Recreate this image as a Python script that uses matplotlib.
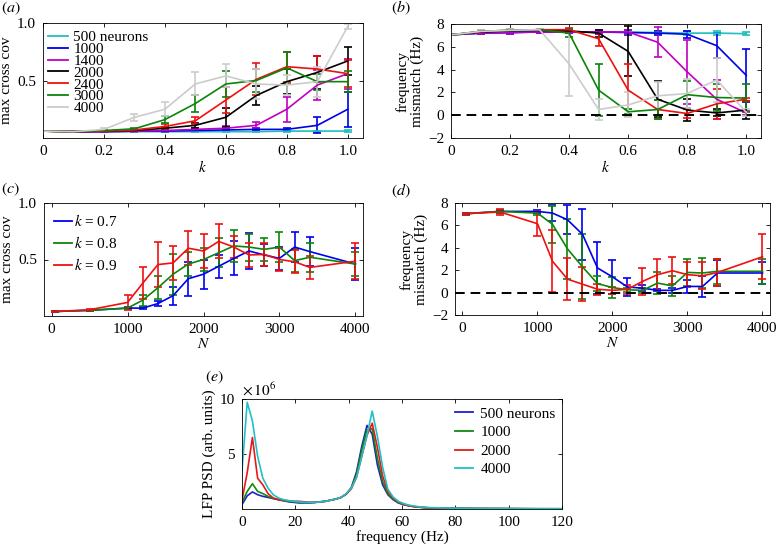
import numpy as np
import matplotlib
matplotlib.use('Agg')
import matplotlib.pyplot as plt
from matplotlib.lines import Line2D

plt.rcParams['font.family'] = 'serif'
plt.rcParams['font.serif'] = ['Liberation Serif', 'DejaVu Serif']
plt.rcParams['mathtext.fontset'] = 'stix'
plt.rcParams['font.size'] = 11
plt.rcParams['axes.linewidth'] = 0.6

#%% data

# panel (a)/(b): sweep over k for several network sizes
k_vals = [0, 0.1, 0.2, 0.3, 0.4, 0.5, 0.6, 0.7, 0.8, 0.9, 1.0]
size_labels = ['500 neurons', '1000', '1400', '2000', '2400', '3000', '4000']

cov_500 = [0.06, 0.055, 0.055, 0.055, 0.055, 0.055, 0.055, 0.055, 0.06, 0.06, 0.06]
cov_1000 = [0.06, 0.055, 0.055, 0.06, 0.06, 0.065, 0.07, 0.075, 0.075, 0.11, 0.25]
cov_1400 = [0.06, 0.055, 0.055, 0.06, 0.065, 0.075, 0.085, 0.11, 0.25, 0.46, 0.56]
cov_2000 = [0.06, 0.055, 0.06, 0.065, 0.085, 0.11, 0.18, 0.37, 0.49, 0.57, 0.67]
cov_2400 = [0.06, 0.055, 0.06, 0.07, 0.1, 0.15, 0.33, 0.51, 0.62, 0.6, 0.56]
cov_3000 = [0.06, 0.055, 0.065, 0.08, 0.16, 0.3, 0.47, 0.5, 0.61, 0.49, 0.49]
cov_4000 = [0.06, 0.055, 0.075, 0.18, 0.25, 0.47, 0.54, 0.47, 0.46, 0.49, 0.97]

err_500 = [0.003, 0.003, 0.003, 0.003, 0.005, 0.005, 0.005, 0.005, 0.005, 0.005, 0.008]
err_1000 = [0.003, 0.003, 0.003, 0.005, 0.005, 0.008, 0.01, 0.01, 0.01, 0.07, 0.15]
err_1400 = [0.003, 0.003, 0.003, 0.005, 0.008, 0.01, 0.02, 0.025, 0.11, 0.13, 0.13]
err_2000 = [0.003, 0.003, 0.005, 0.005, 0.01, 0.02, 0.08, 0.08, 0.11, 0.14, 0.12]
err_2400 = [0.003, 0.003, 0.005, 0.01, 0.02, 0.03, 0.11, 0.14, 0.13, 0.11, 0.12]
err_3000 = [0.003, 0.003, 0.005, 0.01, 0.03, 0.07, 0.11, 0.1, 0.14, 0.07, 0.09]
err_4000 = [0.003, 0.003, 0.01, 0.03, 0.06, 0.1, 0.1, 0.13, 0.09, 0.13, 0.02]

mis_500 = [7.05, 7.2, 7.25, 7.3, 7.3, 7.3, 7.3, 7.25, 7.2, 7.2, 7.15]
mis_1000 = [7.05, 7.2, 7.25, 7.3, 7.3, 7.3, 7.25, 7.2, 7.1, 6.1, 3.5]
mis_1400 = [7.05, 7.2, 7.25, 7.3, 7.3, 7.3, 7.3, 6.4, 3.8, 1.4, 0.2]
mis_2000 = [7.05, 7.3, 7.4, 7.45, 7.4, 7.2, 5.6, 1.4, 0.45, 0.2, 0.45]
mis_2400 = [7.05, 7.35, 7.45, 7.5, 7.5, 6.7, 2.2, 0.5, 0.15, 1.0, 1.4]
mis_3000 = [7.05, 7.35, 7.45, 7.5, 7.2, 2.2, 0.3, 0.5, 1.8, 1.55, 1.5]
mis_4000 = [7.05, 7.35, 7.45, 7.5, 4.5, 0.5, 0.9, 1.7, 1.9, 3.1, 0.25]

merr_500 = [0.05, 0.1, 0.1, 0.1, 0.1, 0.15, 0.15, 0.15, 0.15, 0.15, 0.15]
merr_1000 = [0.05, 0.1, 0.1, 0.1, 0.1, 0.15, 0.2, 0.2, 0.3, 1.1, 2.3]
merr_1400 = [0.05, 0.1, 0.1, 0.1, 0.1, 0.15, 0.2, 1.3, 2.8, 1.7, 0.2]
merr_2000 = [0.05, 0.1, 0.1, 0.1, 0.1, 0.3, 2.2, 1.6, 1.0, 0.3, 0.8]
merr_2400 = [0.05, 0.1, 0.1, 0.1, 0.15, 0.6, 2.3, 0.8, 0.4, 1.3, 0.15]
merr_3000 = [0.05, 0.1, 0.1, 0.1, 0.35, 2.3, 0.2, 0.8, 1.2, 1.2, 1.2]
merr_4000 = [0.05, 0.1, 0.1, 0.1, 2.8, 0.9, 1.1, 1.2, 1.3, 1.9, 0.3]

# panel (c)/(d): sweep over N for three k values
N_vals = [50, 500, 1000, 1200, 1400, 1600, 1800, 2000, 2200, 2400, 2600, 2800, 3000, 3200, 3400, 4000]
k_labels = [r'$k$ = 0.7', r'$k$ = 0.8', r'$k$ = 0.9']

cov_k07 = [0.04, 0.05, 0.07, 0.07, 0.11, 0.18, 0.33, 0.37, 0.44, 0.51, 0.575, 0.54, 0.51, 0.61, 0.57, 0.46]
err_k07 = [0.005, 0.005, 0.01, 0.01, 0.02, 0.08, 0.15, 0.13, 0.1, 0.15, 0.16, 0.1, 0.1, 0.13, 0.13, 0.14]
cov_k08 = [0.04, 0.05, 0.07, 0.14, 0.25, 0.37, 0.46, 0.5, 0.56, 0.62, 0.61, 0.59, 0.61, 0.49, 0.52, 0.46]
err_k08 = [0.005, 0.005, 0.01, 0.05, 0.1, 0.18, 0.11, 0.1, 0.13, 0.14, 0.12, 0.1, 0.13, 0.1, 0.13, 0.11]
cov_k09 = [0.04, 0.055, 0.12, 0.29, 0.455, 0.47, 0.6, 0.575, 0.66, 0.61, 0.54, 0.545, 0.5, 0.48, 0.43, 0.485]
err_k09 = [0.005, 0.01, 0.07, 0.14, 0.2, 0.15, 0.15, 0.15, 0.15, 0.1, 0.11, 0.1, 0.1, 0.1, 0.1, 0.16]

mis_k07 = [7.05, 7.25, 7.25, 7.1, 6.5, 5.2, 2.2, 1.4, 0.5, 0.4, 0.2, 0.2, 0.55, 0.55, 1.75, 1.75]
merr_k07 = [0.1, 0.1, 0.1, 0.7, 1.3, 2.3, 2.3, 1.5, 0.8, 0.3, 0.1, 0.2, 0.6, 0.9, 1.2, 1.0]
mis_k08 = [7.05, 7.25, 7.1, 6.1, 3.9, 2.3, 0.8, 0.45, 0.25, 0.2, 0.85, 0.6, 1.8, 1.75, 1.9, 1.9]
merr_k08 = [0.1, 0.1, 0.2, 1.65, 2.7, 2.9, 0.7, 0.9, 0.2, 0.2, 1.0, 0.9, 1.2, 1.3, 1.1, 1.1]
mis_k09 = [7.05, 7.2, 6.15, 2.8, 1.2, 0.75, 0.3, 0.2, 0.3, 1.0, 1.6, 1.95, 1.6, 1.5, 1.8, 3.2]
merr_k09 = [0.1, 0.3, 1.1, 2.75, 1.9, 1.5, 0.5, 0.3, 0.4, 1.2, 1.4, 1.2, 1.1, 1.2, 1.2, 2.0]

# panel (e): LFP power spectra (x 1e6)
freq_e = list(np.arange(37) * 1.953125) + [80, 90, 100, 110, 120]
psd_labels = ['500 neurons', '1000', '2000', '4000']
psd_500 = [0.4, 1.2, 1.55, 1.3, 1.15, 1.05, 0.95, 0.85, 0.75, 0.65, 0.6, 0.55, 0.55, 0.55,
           0.6, 0.65, 0.7, 0.8, 0.9, 1.05, 1.35, 1.95, 3.4, 5.7, 7.6, 6.8, 4.0, 2.2, 1.3,
           0.85, 0.55, 0.4, 0.3, 0.22, 0.17, 0.13, 0.1, 0.06, 0.04, 0.03, 0.02, 0.02]
psd_1000 = [0.6, 1.6, 2.3, 1.6, 1.4, 1.15, 0.95, 0.85, 0.75, 0.7, 0.65, 0.6, 0.6, 0.6,
            0.6, 0.65, 0.7, 0.8, 0.9, 1.05, 1.35, 1.9, 3.2, 5.4, 7.2, 7.3, 4.6, 2.5, 1.4,
            0.9, 0.6, 0.42, 0.3, 0.22, 0.17, 0.13, 0.1, 0.06, 0.04, 0.03, 0.02, 0.02]
psd_2000 = [0.8, 3.3, 6.5, 2.8, 2.2, 1.4, 1.0, 0.85, 0.8, 0.75, 0.7, 0.7, 0.65, 0.6,
            0.6, 0.65, 0.7, 0.8, 0.9, 1.05, 1.35, 1.85, 2.9, 4.8, 6.7, 7.8, 5.6, 3.0, 1.6,
            1.0, 0.65, 0.45, 0.3, 0.22, 0.17, 0.13, 0.1, 0.06, 0.04, 0.03, 0.02, 0.02]
psd_4000 = [3.5, 9.7, 8.0, 4.8, 2.8, 1.9, 1.3, 1.0, 0.85, 0.75, 0.7, 0.65, 0.6, 0.6,
            0.6, 0.65, 0.7, 0.8, 0.9, 1.05, 1.4, 1.9, 2.9, 4.8, 6.7, 8.9, 6.6, 3.8, 1.8,
            1.1, 0.7, 0.5, 0.36, 0.27, 0.21, 0.16, 0.13, 0.07, 0.05, 0.04, 0.03, 0.02]

#%% styling

size_colors = ['#1cc0c0', '#0000e6', '#c000c0', '#000000', '#ee1010', '#0a840a', '#cccccc']
k_colors = ['#0000f0', '#0a860a', '#f01010']
psd_colors = ['#2020c8', '#108a10', '#e81818', '#20c0c8']

W, H = 778, 547
fig = plt.figure(figsize=(W / 100, H / 100), dpi=100)


def px_axes(left, top, right, bottom):
    return fig.add_axes([left / W, 1 - bottom / H, (right - left) / W, (bottom - top) / H])


def style(ax):
    ax.tick_params(direction='in', top=True, right=True, length=3, width=0.6,
                   labelsize=11, pad=5)


def errlines(ax, x, ys, errs, colors):
    for y, e, c in zip(ys, errs, colors):
        ax.errorbar(x, y, yerr=e, color=c, lw=1.2, elinewidth=1.2, capsize=3,
                    capthick=1.2)


def line_legend(ax, colors, labels, anchor, hl, tp, ls):
    handles = [Line2D([], [], color=c, lw=1.3) for c in colors]
    ax.legend(handles, labels, loc='upper left', bbox_to_anchor=anchor, frameon=False,
              borderpad=0, borderaxespad=0, handlelength=hl, handletextpad=tp,
              labelspacing=ls, fontsize=11)


#%% (a)
ax1 = px_axes(43, 23, 363, 138)
errlines(ax1, k_vals,
         [cov_500, cov_1000, cov_1400, cov_2000, cov_2400, cov_3000, cov_4000],
         [err_500, err_1000, err_1400, err_2000, err_2400, err_3000, err_4000],
         size_colors)
ax1.set_xlim(0, 1.05)
ax1.set_ylim(0, 1.0)
ax1.set_xticks([0, 0.2, 0.4, 0.6, 0.8, 1.0])
ax1.set_xticklabels(['0', '0.2', '0.4', '0.6', '0.8', '1.0'])
ax1.set_yticks([0.5, 1.0])
ax1.set_yticklabels(['0.5', '1.0'])
ax1.set_xlabel(r'$k$', labelpad=1)
ax1.set_ylabel('max cross cov', labelpad=3)
style(ax1)
line_legend(ax1, size_colors, size_labels, (0.016, 0.935), 1.33, 0.33, -0.12)

#%% (b)
ax2 = px_axes(451, 24, 761, 138)
errlines(ax2, k_vals,
         [mis_500, mis_1000, mis_1400, mis_2000, mis_2400, mis_3000, mis_4000],
         [merr_500, merr_1000, merr_1400, merr_2000, merr_2400, merr_3000, merr_4000],
         size_colors)
ax2.axhline(0, color='k', ls=(0, (5, 3)), lw=1.4)
ax2.set_xlim(0, 1.05)
ax2.set_ylim(-2, 8)
ax2.set_xticks([0, 0.2, 0.4, 0.6, 0.8, 1.0])
ax2.set_xticklabels(['0', '0.2', '0.4', '0.6', '0.8', '1.0'])
ax2.set_yticks([-2, 0, 2, 4, 6, 8])
ax2.set_xlabel(r'$k$', labelpad=1)
ax2.set_ylabel('frequency\nmismatch (Hz)', labelpad=3, linespacing=1.1)
style(ax2)

#%% (c)
ax3 = px_axes(44, 203, 363, 316)
errlines(ax3, N_vals, [cov_k07, cov_k08, cov_k09], [err_k07, err_k08, err_k09], k_colors)
ax3.set_xlim(-100, 4100)
ax3.set_ylim(0, 1.0)
ax3.set_xticks([0, 1000, 2000, 3000, 4000])
ax3.set_yticks([0.5, 1.0])
ax3.set_yticklabels(['0.5', '1.0'])
ax3.set_xlabel(r'$N$', labelpad=1)
ax3.set_ylabel('max cross cov', labelpad=3)
style(ax3)
line_legend(ax3, k_colors, k_labels, (0.031, 0.912), 1.2, 0.12, 0.39)

#%% (d)
ax4 = px_axes(455, 203, 770, 315)
errlines(ax4, N_vals, [mis_k07, mis_k08, mis_k09], [merr_k07, merr_k08, merr_k09], k_colors)
ax4.axhline(0, color='k', ls=(0, (5, 3)), lw=1.4)
ax4.set_xlim(-100, 4100)
ax4.set_ylim(-2, 8)
ax4.set_xticks([0, 1000, 2000, 3000, 4000])
ax4.set_yticks([-2, 0, 2, 4, 6, 8])
ax4.set_xlabel(r'$N$', labelpad=1)
ax4.set_ylabel('frequency\nmismatch (Hz)', labelpad=3, linespacing=1.1)
style(ax4)

#%% (e)
ax5 = px_axes(242, 399, 562, 509)
for vals, c in zip([psd_500, psd_1000, psd_2000, psd_4000], psd_colors):
    ax5.plot(freq_e, np.array(vals) * 1e6, color=c, lw=1.2)
ax5.set_xlim(0, 120)
ax5.set_ylim(0, 1e7)
ax5.set_xticks([0, 20, 40, 60, 80, 100, 120])
ax5.set_yticks([5e6, 1e7])
ax5.set_yticklabels(['5', '10'])
ax5.set_xlabel('frequency (Hz)', labelpad=1)
ax5.set_ylabel('LFP PSD (arb. units)', labelpad=3)
ax5.text(0.0, 1.005, r'$\times\,10^6$', transform=ax5.transAxes, ha='left', va='bottom',
         fontsize=11)
style(ax5)
line_legend(ax5, psd_colors, psd_labels, (0.666, 0.927), 1.2, 0.45, 0.32)

#%% panel letters
for lab, x, y in [('a', 1, 8), ('b', 391, 8), ('c', 1, 189), ('d', 391, 191), ('e', 205, 377)]:
    fig.text(x / W, 1 - y / H, r'$(%s)$' % lab, ha='left', va='center', fontsize=11.5)

fig.savefig('out.png', dpi=100)
